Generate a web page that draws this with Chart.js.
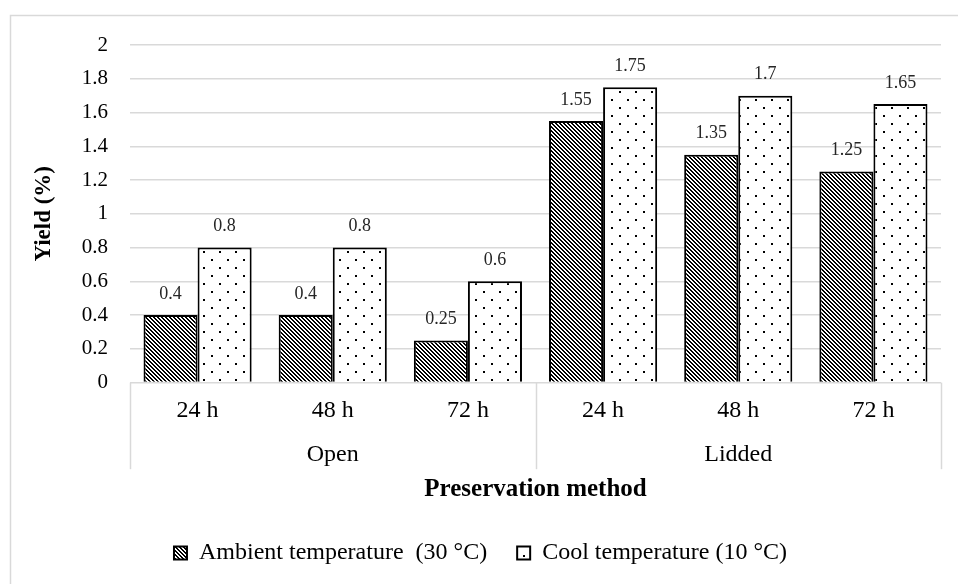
<!DOCTYPE html>
<html>
<head>
<meta charset="utf-8">
<script src="https://cdn.jsdelivr.net/npm/chart.js@4"></script>
<style>
  body { margin: 0; background: #fff; }
  canvas { display: block; }
</style>
</head>
<body>
<canvas id="yield-graph" width="958" height="584"></canvas>
<script>
const categories = ['24 h', '48 h', '72 h', '24 h', '48 h', '72 h'];
const groups = ['Open', 'Lidded'];
const ambientYield = [0.4, 0.4, 0.25, 1.55, 1.35, 1.25];
const coolYield = [0.8, 0.8, 0.6, 1.75, 1.7, 1.65];
const yMin = 0;
const yMax = 2;
const yStep = 0.2;

const serif = '"Liberation Serif", "Times New Roman", serif';

// dark downward diagonal hatch
function hatchPattern() {
  const c = document.createElement('canvas');
  c.width = 4; c.height = 4;
  const p = c.getContext('2d');
  p.fillStyle = '#fff';
  p.fillRect(0, 0, 4, 4);
  p.fillStyle = '#000';
  for (let i = 0; i < 4; i++) {
    p.fillRect(i, i, 1, 1);
    p.fillRect((i + 1) % 4, i, 1, 1);
  }
  return p.createPattern(c, 'repeat');
}

// sparse staggered dots
function dotPattern() {
  const c = document.createElement('canvas');
  c.width = 16; c.height = 16;
  const p = c.getContext('2d');
  p.fillStyle = '#fff';
  p.fillRect(0, 0, 16, 16);
  p.fillStyle = '#000';
  p.fillRect(3, 3, 2, 2);
  p.fillRect(11, 11, 2, 2);
  return p.createPattern(c, 'repeat');
}

const frame = {
  id: 'frame',
  beforeDraw(chart) {
    const ctx = chart.ctx;
    ctx.save();
    ctx.fillStyle = '#fff';
    ctx.fillRect(0, 0, chart.width, chart.height);
    ctx.strokeStyle = '#d9d9d9';
    ctx.lineWidth = 1.5;
    ctx.strokeRect(10.5, 15.5, chart.width + 20, chart.height + 20);
    ctx.restore();
  }
};

// value above each bar
const valueLabels = {
  id: 'valueLabels',
  afterDatasetsDraw(chart) {
    const ctx = chart.ctx;
    ctx.save();
    ctx.font = '18px ' + serif;
    ctx.fillStyle = '#262626';
    ctx.textAlign = 'center';
    ctx.textBaseline = 'middle';
    chart.data.datasets.forEach((ds, i) => {
      chart.getDatasetMeta(i).data.forEach((bar, j) => {
        ctx.fillText(String(ds.data[j]), bar.x, bar.y - 21);
      });
    });
    ctx.restore();
  }
};

// vertical separators of the two-level category axis
const groupLines = {
  id: 'groupLines',
  afterDraw(chart) {
    const x = chart.scales.x;
    const g = chart.scales.group;
    const area = chart.chartArea;
    const per = categories.length / groups.length;
    const bottom = g.top + 15 + 28.8;
    const xs = [area.left, area.right];
    for (let k = 1; k < groups.length; k++) {
      xs.push((x.getPixelForValue(k * per - 1) + x.getPixelForValue(k * per)) / 2);
    }
    const ctx = chart.ctx;
    ctx.save();
    ctx.strokeStyle = '#d9d9d9';
    ctx.lineWidth = 1.5;
    xs.forEach(px => {
      ctx.beginPath();
      ctx.moveTo(Math.round(px) + 0.5, area.bottom);
      ctx.lineTo(Math.round(px) + 0.5, bottom);
      ctx.stroke();
    });
    ctx.restore();
  }
};

const ctx = document.getElementById('yield-graph').getContext('2d');

const myChart = new Chart(ctx, {
  type: 'bar',
  data: {
    labels: categories,
    datasets: [{
      label: 'Ambient temperature  (30 °C)',
      data: ambientYield,
      backgroundColor: hatchPattern(),
      borderColor: '#000',
      borderWidth: 2,
      xAxisID: 'x',
      yAxisID: 'y'
    }, {
      label: 'Cool temperature (10 °C)',
      data: coolYield,
      backgroundColor: dotPattern(),
      borderColor: '#000',
      borderWidth: 2,
      xAxisID: 'x',
      yAxisID: 'y'
    }]
  },
  options: {
    responsive: false,
    animation: false,
    devicePixelRatio: 1,
    layout: {
      padding: { left: 20, right: 17, top: 45, bottom: 9 }
    },
    datasets: {
      bar: {
        barPercentage: 1.0,
        categoryPercentage: 0.8
      }
    },
    plugins: {
      tooltip: { enabled: false },
      legend: {
        position: 'bottom',
        labels: {
          color: '#000',
          font: { family: serif, size: 24 },
          boxWidth: 13,
          boxHeight: 13,
          padding: 30
        }
      }
    },
    scales: {
      x: {
        position: 'bottom',
        weight: 0,
        grid: { display: false, drawTicks: false },
        border: { display: false },
        ticks: {
          color: '#000',
          font: { family: serif, size: 24 },
          padding: 14,
          maxRotation: 0,
          autoSkip: false
        },
        afterFit: s => { s.height = 42.8; }
      },
      group: {
        type: 'category',
        labels: groups,
        position: 'bottom',
        weight: 1,
        offset: true,
        grid: { display: false, drawTicks: false },
        border: { display: false },
        ticks: {
          color: '#000',
          font: { family: serif, size: 24 },
          padding: 15,
          maxRotation: 0
        },
        title: {
          display: true,
          text: 'Preservation method',
          color: '#000',
          font: { family: serif, size: 25, weight: 'bold' },
          padding: { top: 6, bottom: 6 }
        },
        afterFit: s => { s.height = 85.6; }
      },
      y: {
        min: yMin,
        max: yMax,
        grid: { color: '#d9d9d9', lineWidth: 1.5, drawTicks: false },
        border: { display: false },
        ticks: {
          stepSize: yStep,
          color: '#000',
          font: { family: serif, size: 21 },
          padding: 22,
          callback: v => String(Number(v.toFixed(1)))
        },
        title: {
          display: true,
          text: 'Yield (%)',
          color: '#000',
          font: { family: serif, size: 23, weight: 'bold' },
          padding: { top: 10, bottom: 24 }
        },
        afterFit: s => { s.width = 110; }
      }
    }
  },
  plugins: [frame, valueLabels, groupLines]
});
</script>
</body>
</html>
